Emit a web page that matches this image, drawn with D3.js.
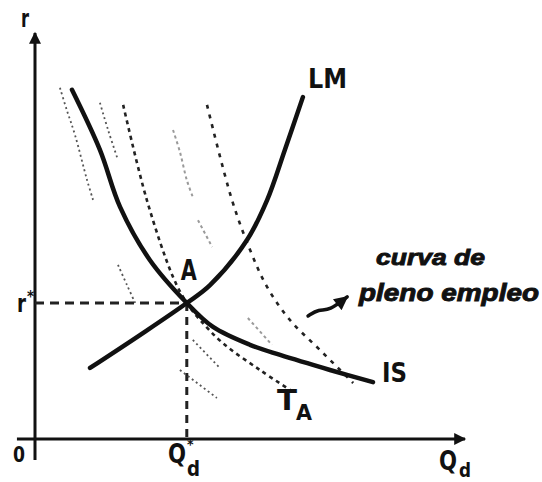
<!DOCTYPE html>
<html>
<head>
<meta charset="utf-8">
<script src="https://cdn.jsdelivr.net/npm/d3@7"></script>
<style>
body { margin: 0; background: #fff; }
text { font-family: "Liberation Sans Narrow", "DejaVu Sans Condensed", "Liberation Sans", sans-serif; font-weight: bold; fill: #111; }
.note { font-family: "Liberation Sans", Arial, sans-serif; font-style: italic; font-weight: bold; stroke: #111; stroke-width: 0.9; }
</style>
</head>
<body>
<div id="chart"></div>
<script>
// curves in data units (Q_d on x, r on y, both 0..100)
let isCurve = [[8.6, 86.0], [15.1, 71.2], [19.8, 57.1], [26.7, 44.1], [35.3, 33.5], [41.4, 27.6], [50.0, 23.2], [57.0, 20.7], [68.6, 17.0], [78.6, 14.0]]
let lmCurve = [[12.8, 17.5], [24.4, 25.6], [35.3, 33.5], [40.7, 37.9], [49.3, 49.0], [54.0, 58.9], [58.1, 71.2], [62.3, 84.2]]
let taCurve = [[20.5, 82.3], [26.0, 58.9], [32.1, 39.9], [35.3, 33.5], [38.4, 29.3], [43.7, 23.6], [52.3, 17.0], [59.3, 12.1]]
let plenoCurve = [[40.0, 82.3], [45.8, 58.9], [50.0, 46.6], [54.0, 37.4], [59.3, 29.3], [66.3, 21.9], [74.0, 13.8]]

// faint pieces of the other iso curves (scan leftovers)
let faintDark = [
    [[5.8, 86.5], [7.4, 81.0], [9.3, 74.9], [12.1, 63.8], [13.5, 58.9]],
    [[19.3, 42.9], [21.4, 37.9], [23.3, 33.5]],
    [[33.7, 17.0], [42.3, 10.1]],
    [[15.1, 82.8], [17.0, 76.1], [19.3, 68.7]],
    [[36.7, 24.4], [43.0, 17.5]]
]
let faintLight = [
    [[32.1, 76.1], [33.7, 70.7], [35.3, 63.8], [36.7, 59.6]],
    [[37.9, 53.9], [41.2, 47.3]],
    [[49.5, 29.8], [55.1, 23.2]]
]

let eqA = [35.3, 33.5]
let arrowPts = [[63.5, 30.3], [66.0, 32.0], [68.5, 31.6], [72.6, 35.0]]

let width = 542, height = 482

let x = d3.scaleLinear().domain([0, 100]).range([35, 465])
let y = d3.scaleLinear().domain([0, 100]).range([439, 33])

let svg = d3.select('#chart')
.append('svg')
.attr('width', width)
.attr('height', height)

let defs = svg.append('defs')
defs.append('marker')
.attr('id', 'head')
.attr('viewBox', '0 0 10 10')
.attr('refX', 9).attr('refY', 5)
.attr('markerWidth', 4.5).attr('markerHeight', 4)
.attr('markerUnits', 'strokeWidth')
.attr('orient', 'auto')
.append('path').attr('d', 'M0,0L10,5L0,10z').attr('fill', '#111')

let line = d3.line().x(d => x(d[0])).y(d => y(d[1])).curve(d3.curveCatmullRom)

// axes
svg.append('path')
.attr('d', line([[-4.2, 0], [100, 0]]))
.attr('stroke', '#111').attr('stroke-width', 3).attr('marker-end', 'url(#head)')
svg.append('path')
.attr('d', line([[0, -5.2], [0, 100]]))
.attr('stroke', '#111').attr('stroke-width', 3).attr('marker-end', 'url(#head)')

// guides to A
svg.append('path')
.attr('d', line([[0, eqA[1]], eqA]))
.attr('fill', 'none').attr('stroke', '#222').attr('stroke-width', 3)
.attr('stroke-dasharray', '9,6')
svg.append('path')
.attr('d', line([eqA, [eqA[0], 0]]))
.attr('fill', 'none').attr('stroke', '#222').attr('stroke-width', 3)
.attr('stroke-dasharray', '8,6')

// faint iso curves
svg.append('g').selectAll('path')
.data(faintLight)
.join('path')
.attr('d', line)
.attr('fill', 'none').attr('stroke', '#9a9a9a').attr('stroke-width', 2)
.attr('stroke-dasharray', '3,3')
svg.append('g').selectAll('path')
.data(faintDark)
.join('path')
.attr('d', line)
.attr('fill', 'none').attr('stroke', '#555').attr('stroke-width', 1.8)
.attr('stroke-dasharray', '2,3')

// T_A and full employment curve
svg.append('path')
.attr('d', line(taCurve))
.attr('fill', 'none').attr('stroke', '#222').attr('stroke-width', 2.6)
.attr('stroke-dasharray', '4,4')
svg.append('path')
.attr('d', line(plenoCurve))
.attr('fill', 'none').attr('stroke', '#222').attr('stroke-width', 2.6)
.attr('stroke-dasharray', '4,6')

// IS and LM
svg.append('path')
.attr('d', line(isCurve))
.attr('fill', 'none').attr('stroke', '#111').attr('stroke-width', 4.5)
.attr('stroke-linecap', 'round')
svg.append('path')
.attr('d', line(lmCurve))
.attr('fill', 'none').attr('stroke', '#111').attr('stroke-width', 4.5)
.attr('stroke-linecap', 'round')

// arrow toward the note
svg.append('path')
.attr('d', d3.line().x(d => x(d[0])).y(d => y(d[1])).curve(d3.curveBasis)(arrowPts))
.attr('fill', 'none').attr('stroke', '#111').attr('stroke-width', 3.5)
.attr('stroke-linecap', 'round').attr('marker-end', 'url(#head)')

// labels
function label(txt, px, py, size, len) {
    let t = svg.append('text').attr('x', px).attr('y', py).attr('font-size', size).text(txt)
    if (len) t.attr('textLength', len).attr('lengthAdjust', 'spacingAndGlyphs')
    return t
}

label('r', 21, 27, 24, 8)
label('LM', 308, 88, 27, 39)
label('IS', 382, 382, 27, 25)
label('A', x(eqA[0]) - 6, 280, 28, 16)
label('T', 277, 410, 28, 20)
label('A', 296, 420, 22, 16)
label('r', 17, 312, 24, 9)
label('*', 27, 302, 15)
label('0', 13, 462, 22, 12)
label('Q', 168, 463, 26, 18)
label('d', 187, 476, 21, 13)
label('*', 187, 449, 14)
label('Q', 439, 470, 26, 18)
label('d', 459, 477, 20, 12)

svg.append('text').attr('class', 'note')
.attr('x', 376).attr('y', 265).attr('font-size', 22)
.attr('textLength', 109).attr('lengthAdjust', 'spacingAndGlyphs')
.text('curva de')
svg.append('text').attr('class', 'note')
.attr('x', 359).attr('y', 301).attr('font-size', 23)
.attr('textLength', 180).attr('lengthAdjust', 'spacingAndGlyphs')
.text('pleno empleo')
</script>
</body>
</html>
